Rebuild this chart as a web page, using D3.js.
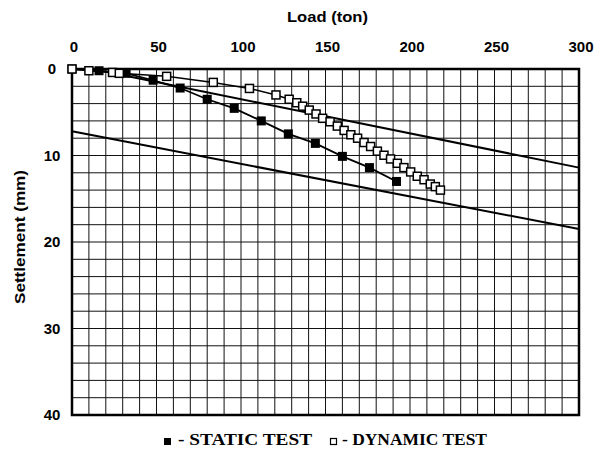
<!DOCTYPE html>
<html><head><meta charset="utf-8">
<script src="https://cdn.jsdelivr.net/npm/d3@7"></script>
<style>body{margin:0;background:#fff}svg{display:block}</style>
</head><body>
<script>
const xTicks = [0, 50, 100, 150, 200, 250, 300];
const yTicks = [0, 10, 20, 30, 40];
const staticLoad = [0, 16, 32, 48, 64, 80, 96, 112, 128, 144, 160, 176, 192];
const staticSettle = [0, 0.2, 0.5, 1.3, 2.2, 3.5, 4.55, 6.0, 7.5, 8.6, 10.1, 11.4, 13.0];
const dynLoad = [0, 10, 24, 28, 56, 83.6, 105, 120.7, 128.5, 133, 136.5, 140.4, 144.4, 148.3, 152.7, 157, 161, 165, 169, 172.8, 176.7, 180.7, 184.6, 188.5, 192.5, 196.4, 200.4, 204.3, 208.3, 212, 215, 218];
const dynSettle = [0, 0.2, 0.4, 0.5, 0.85, 1.55, 2.25, 3.0, 3.5, 3.9, 4.3, 4.75, 5.2, 5.7, 6.1, 6.6, 7.1, 7.6, 8.0, 8.5, 8.96, 9.5, 9.97, 10.4, 10.9, 11.4, 11.9, 12.4, 12.8, 13.3, 13.6, 14.0];
const upperLineLoad = [12, 300];
const upperLineSettle = [0, 11.4];
const lowerLineLoad = [0, 300];
const lowerLineSettle = [7.2, 18.5];
const legendLabels = ["- STATIC TEST", "- DYNAMIC TEST"];

const W = 612, H = 451;
const sans = "Liberation Sans, Arial, sans-serif";
const svg = d3.select("body").append("svg").attr("width", W).attr("height", H);
const x = d3.scaleLinear().domain([0, 300]).range([72, 579]);
const y = d3.scaleLinear().domain([0, 40]).range([69, 415]);

// grid
const g = svg.append("g");
g.selectAll("line.v").data(d3.range(10, 300, 10)).enter().append("line")
  .attr("x1", d => x(d)).attr("x2", d => x(d)).attr("y1", y(0)).attr("y2", y(40))
  .attr("stroke", "#111").attr("stroke-width", 1);
g.selectAll("line.h").data(d3.range(2, 40, 2)).enter().append("line")
  .attr("y1", d => y(d)).attr("y2", d => y(d)).attr("x1", x(0)).attr("x2", x(300))
  .attr("stroke", "#111").attr("stroke-width", 1);

// frame
svg.append("rect").attr("x", x(0)).attr("y", y(0)).attr("width", x(300) - x(0)).attr("height", y(40) - y(0))
  .attr("fill", "none").attr("stroke", "#000").attr("stroke-width", 2.5);

// axes
const xAxis = svg.append("g").attr("transform", `translate(1.5,52)`)
  .call(d3.axisTop(x).tickValues(xTicks).tickSize(0).tickPadding(0));
xAxis.select(".domain").remove();
xAxis.selectAll("text").attr("font-family", sans).attr("font-weight", "bold")
  .attr("font-size", 15).attr("fill", "#000").attr("dy", "0");

const yAxis = svg.append("g").attr("transform", `translate(52,0)`)
  .call(d3.axisLeft(y).tickValues(yTicks).tickSize(0).tickPadding(0));
yAxis.select(".domain").remove();
yAxis.selectAll("text").attr("font-family", sans).attr("font-weight", "bold")
  .attr("font-size", 15).attr("fill", "#000").attr("text-anchor", "middle");

svg.append("text").attr("x", 287).attr("y", 22)
  .attr("font-family", sans).attr("font-weight", "bold").attr("font-size", 15)
  .attr("textLength", 81).attr("lengthAdjust", "spacingAndGlyphs")
  .text("Load (ton)");
svg.append("text").attr("transform", "translate(25,237) rotate(-90)").attr("text-anchor", "middle")
  .attr("font-family", sans).attr("font-weight", "bold").attr("font-size", 15)
  .attr("textLength", 134).attr("lengthAdjust", "spacingAndGlyphs")
  .text("Settlement (mm)");

// straight lines
const line = d3.line().x(d => x(d[0])).y(d => y(d[1]));
svg.append("path").datum(d3.zip(upperLineLoad, upperLineSettle)).attr("d", line)
  .attr("fill", "none").attr("stroke", "#000").attr("stroke-width", 2);
svg.append("path").datum(d3.zip(lowerLineLoad, lowerLineSettle)).attr("d", line)
  .attr("fill", "none").attr("stroke", "#000").attr("stroke-width", 2);

// series
const sData = d3.zip(staticLoad, staticSettle);
const dData = d3.zip(dynLoad, dynSettle);
svg.append("path").datum(sData).attr("d", line).attr("fill", "none").attr("stroke", "#000").attr("stroke-width", 1.8);
svg.append("path").datum(dData).attr("d", line).attr("fill", "none").attr("stroke", "#000").attr("stroke-width", 1.5);

svg.selectAll("rect.s").data(sData).enter().append("rect")
  .attr("x", d => x(d[0]) - 4.5).attr("y", d => y(d[1]) - 4.5).attr("width", 9).attr("height", 9)
  .attr("fill", "#000");
svg.selectAll("rect.d").data(dData).enter().append("rect")
  .attr("x", d => x(d[0]) - 4).attr("y", d => y(d[1]) - 4).attr("width", 8).attr("height", 8)
  .attr("fill", "#fff").attr("stroke", "#000").attr("stroke-width", 1.5);

// legend
const lf = "Liberation Serif, Times New Roman, serif";
svg.append("rect").attr("x", 164).attr("y", 438).attr("width", 7).attr("height", 7).attr("fill", "#000");
svg.append("text").attr("x", 178).attr("y", 445).attr("font-family", lf).attr("font-weight", "bold")
  .attr("font-size", 16).attr("textLength", 134).attr("lengthAdjust", "spacingAndGlyphs").text(legendLabels[0]);
svg.append("rect").attr("x", 330.5).attr("y", 438.5).attr("width", 6).attr("height", 6)
  .attr("fill", "#fff").attr("stroke", "#000").attr("stroke-width", 1.2);
svg.append("text").attr("x", 342).attr("y", 445).attr("font-family", lf).attr("font-weight", "bold")
  .attr("font-size", 16).attr("textLength", 145).attr("lengthAdjust", "spacingAndGlyphs").text(legendLabels[1]);
</script>
</body></html>
